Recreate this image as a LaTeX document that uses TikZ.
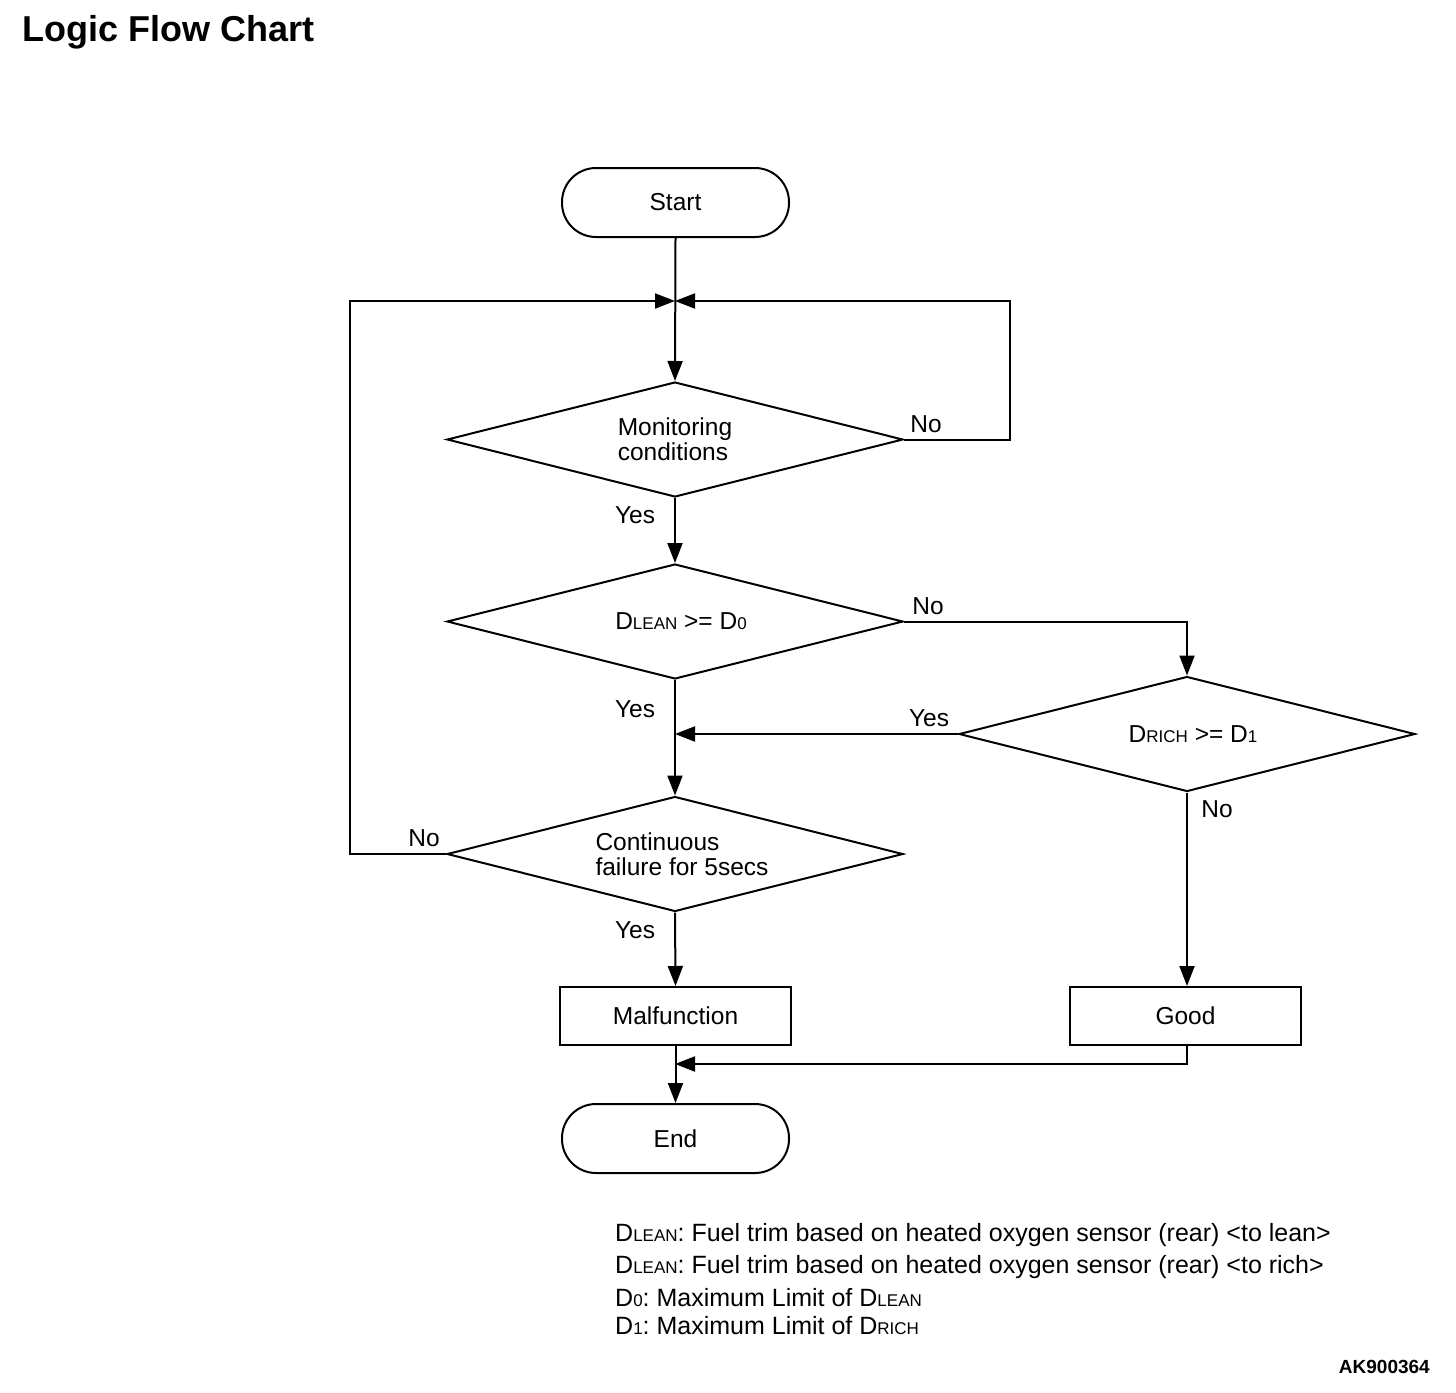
\documentclass[tikz,border=0pt]{standalone}
\usepackage{fontspec}
\setmainfont{Liberation Sans}
\usetikzlibrary{shapes.geometric,arrows.meta}
\newcommand{\smc}[1]{{\fontsize{17}{17}\selectfont #1}}
\frenchspacing
\begin{document}
\begin{tikzpicture}[x=1pt,y=-1pt,
  every node/.style={font=\fontsize{24.5}{25}\selectfont},
  arr/.style={line width=2pt,-{Triangle[length=20pt,width=15pt]}},
  term/.style={draw,line width=2pt,rounded corners=34pt,minimum width=227pt,minimum height=69pt,inner sep=0},
  proc/.style={draw,line width=2pt,minimum width=231pt,minimum height=58pt,inner sep=0},
  dec/.style={draw,line width=2pt,diamond,aspect=4,minimum width=456pt,minimum height=115pt,inner sep=0,align=left},
  lbl/.style={inner sep=0},
  leg/.style={inner sep=0,anchor=base west,font=\fontsize{25}{26}\selectfont}
]
\useasboundingbox (0,0) rectangle (1456,1392);
\node[lbl,anchor=base west,font=\fontsize{36}{38}\selectfont\bfseries] (title) at (22,41) {Logic Flow Chart};
\node[lbl,anchor=base east,font=\fontsize{19}{20}\selectfont\bfseries] (code) at (1430,1373) {AK900364};

\node[term] (start) at (675.5,202.5) {Start};
\node[dec] (d1) at (675,439.5) {Monitoring\\conditions};
\node[dec] (d2) at (675,621.5) {\hspace*{12pt}D\smc{LEAN} >= D\smc{0}};
\node[dec] (d3) at (1187,734) {\hspace*{12pt}D\smc{RICH} >= D\smc{1}};
\node[dec] (d4) at (675,854) {\hspace*{14pt}Continuous\\\hspace*{14pt}failure for 5secs};
\node[proc] (mal) at (675.5,1016) {Malfunction};
\node[proc] (good) at (1185.5,1016) {Good};
\node[term] (end) at (675.5,1138.5) {End};

\coordinate (j) at (675,301);
\coordinate (rr) at (1010,301);
\coordinate (ll) at (350,301);
\coordinate (m) at (675,734);
\coordinate (k) at (675,1064);

\draw[arr] (start.south) -- (d1.north);
\draw[arr] (d1.east) -| (rr) -- (j);
\draw[arr] (d4.west) -| (ll) -- (j);
\draw[arr] (d1.south) -- (d2.north);
\draw[arr] (d2.east) -| (d3.north);
\draw[arr] (d3.west) -- (m);
\draw[arr] (d2.south) -- (d4.north);
\draw[arr] (d4.south) -- (mal.north);
\draw[arr] (d3.south) -- (d3.south |- good.north);
\draw[arr] (mal.south) -- (end.north);
\draw[arr] (good.south -| d3.south) |- (k);

\node[lbl] (no1) at (926,424) {No};
\node[lbl] (yes1) at (635,515) {Yes};
\node[lbl] (no2) at (928,606) {No};
\node[lbl] (yes2) at (929,718) {Yes};
\node[lbl] (yes3) at (635,709) {Yes};
\node[lbl] (no3) at (1217,809) {No};
\node[lbl] (no4) at (424,838) {No};
\node[lbl] (yes4) at (635,930) {Yes};

\node[leg] (l1) at (615,1241) {D\smc{LEAN}: Fuel trim based on heated oxygen sensor (rear) <to lean>};
\node[leg] (l2) at (615,1273) {D\smc{LEAN}: Fuel trim based on heated oxygen sensor (rear) <to rich>};
\node[leg] (l3) at (615,1306) {D\smc{0}: Maximum Limit of D\smc{LEAN}};
\node[leg] (l4) at (615,1334) {D\smc{1}: Maximum Limit of D\smc{RICH}};
\end{tikzpicture}
\end{document}
